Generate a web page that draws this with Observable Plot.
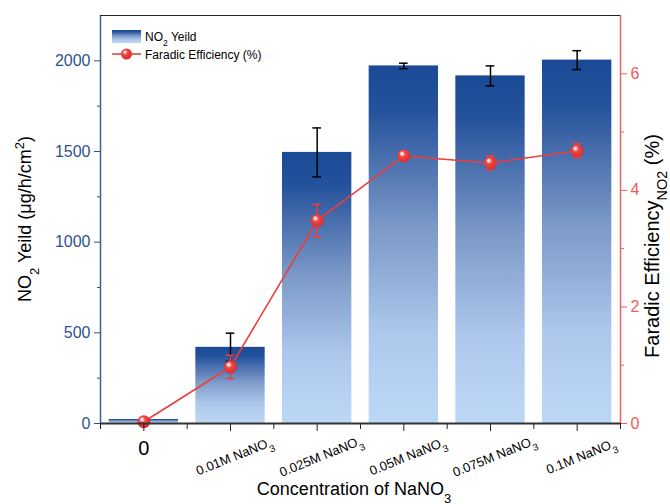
<!DOCTYPE html>
<html>
<head>
<meta charset="utf-8">
<script src="https://cdn.jsdelivr.net/npm/d3@7"></script>
<script src="https://cdn.jsdelivr.net/npm/@observablehq/plot@0.6"></script>
<style>
  html, body { margin: 0; padding: 0; background: #fff; }
  #chart svg { display: block; }
</style>
</head>
<body>
<div id="chart"></div>
<script>
// NaNO3 concentrations tested
const categories = ["0", "0.01M NaNO3", "0.025M NaNO3", "0.05M NaNO3", "0.075M NaNO3", "0.1M NaNO3"];
// NO2 yield (µg/h/cm²) and its error
const yieldValues = [22, 420, 1495, 1972, 1917, 2004];
const yieldErr = [0, 78, 135, 15, 55, 52];
// Faradaic efficiency (%) and its error
const feValues = [0.03, 0.97, 3.48, 4.59, 4.47, 4.68];
const feErr = [0, 0.2, 0.28, 0.04, 0.12, 0.12];
// axis ticks
const yieldTicks = [0, 500, 1000, 1500, 2000];
const yieldMinor = [250, 750, 1250, 1750];
const feTicks = [0, 2, 4, 6];
const feMinor = [1, 3, 5];

const yMax = 2250;   // left axis top
const feMax = 7;     // right axis top
const K = yMax / feMax; // FE -> left-axis units

const rows = categories.map((c, i) => ({
  i, cat: c,
  y: yieldValues[i], ye: yieldErr[i],
  fe: feValues[i] * K, fee: feErr[i] * K
}));
const errRows = rows.filter(d => d.ye > 0);
const feErrRows = rows.filter(d => d.fee > 0);

const FONT = "'Liberation Sans', Arial, Helvetica, sans-serif";
const BLUE = "#2f5190";
const RED = "#f25a5a";
const LINE_RED = "#ee3d3d";
const halfBar = 0.4;
const cap = 0.05;
const blank = () => "";

const chart = Plot.plot({
  width: 670,
  height: 504,
  marginLeft: 100,
  marginRight: 50,
  marginTop: 15,
  marginBottom: 81,
  style: { fontFamily: FONT, background: "#fff" },
  x: { type: "linear", domain: [-0.5, 5.5], axis: null },
  y: { domain: [0, yMax], axis: null },
  marks: [
    // bars
    Plot.rect(rows, {
      x1: d => d.i - halfBar, x2: d => d.i + halfBar,
      y1: 0, y2: "y", fill: "url(#barGrad)"
    }),
    // yield error bars
    Plot.ruleX(errRows, { x: "i", y1: d => d.y - d.ye, y2: d => d.y + d.ye, stroke: "#000", strokeWidth: 1.5 }),
    Plot.ruleY(errRows, { y: d => d.y + d.ye, x1: d => d.i - cap, x2: d => d.i + cap, stroke: "#000", strokeWidth: 1.5 }),
    Plot.ruleY(errRows, { y: d => d.y - d.ye, x1: d => d.i - cap, x2: d => d.i + cap, stroke: "#000", strokeWidth: 1.5 }),
    // FE line
    Plot.line(rows, { x: "i", y: "fe", stroke: LINE_RED, strokeWidth: 1.6 }),
    // FE error bars
    Plot.ruleX(feErrRows, { x: "i", y1: d => d.fe - d.fee, y2: d => d.fe + d.fee, stroke: LINE_RED, strokeWidth: 1.5 }),
    Plot.ruleY(feErrRows, { y: d => d.fe + d.fee, x1: d => d.i - cap, x2: d => d.i + cap, stroke: LINE_RED, strokeWidth: 1.5 }),
    Plot.ruleY(feErrRows, { y: d => d.fe - d.fee, x1: d => d.i - cap, x2: d => d.i + cap, stroke: LINE_RED, strokeWidth: 1.5 }),
    // FE markers
    Plot.dot(rows, { x: "i", y: "fe", r: 6.5, fill: "url(#dotGrad)", stroke: "none" }),

    // left axis
    Plot.axisY({ ticks: yieldTicks, tickSize: 6, tickPadding: 4, fontSize: 16, color: BLUE, label: null, tickFormat: d => String(d) }),
    Plot.axisY({ ticks: yieldMinor, tickSize: 3, color: BLUE, label: null, tickFormat: blank }),
    Plot.ruleX([-0.5], { stroke: "#3d5f96", strokeWidth: 1.5 }),
    // right axis
    Plot.axisY({ anchor: "right", ticks: feTicks.map(v => v * K), tickSize: 6, tickPadding: 4, fontSize: 16,
      color: RED, label: null, tickFormat: d => String(Math.round(d / K)) }),
    Plot.axisY({ anchor: "right", ticks: feMinor.map(v => v * K), tickSize: 3, color: RED, label: null, tickFormat: blank }),
    Plot.ruleX([5.5], { stroke: "#f06262", strokeWidth: 1.5 }),
    // top frame and bottom axis
    Plot.ruleY([yMax], { stroke: "#222", strokeWidth: 1.2 }),
    Plot.axisX({ ticks: [0, 1, 2, 3, 4, 5], tickSize: 8, color: "#222", label: null, tickFormat: blank }),
    Plot.axisX({ ticks: [-0.5, 0.5, 1.5, 2.5, 3.5, 4.5, 5.5], tickSize: 6, color: "#222", label: null, tickFormat: blank }),
    Plot.ruleY([0], { stroke: "#333", strokeWidth: 1.8 }),
    // category labels
    Plot.text(rows.filter(d => d.i === 0), { x: "i", y: 0, text: "cat", dy: 25, fontSize: 20, fill: "#000" }),
    Plot.text(rows.filter(d => d.i > 0), { x: "i", y: 0, text: "cat", dx: 4, dy: 33, rotate: -22, fontSize: 13, fill: "#000" })
  ]
});

document.getElementById("chart").appendChild(chart);

// gradients, subscripts, titles, legend
const svg = d3.select(chart);
const defs = svg.insert("defs", ":first-child");
const bg = defs.append("linearGradient").attr("id", "barGrad").attr("x1", 0).attr("y1", 0).attr("x2", 0).attr("y2", 1);
[[0, "#1a4a96"], [0.12, "#24519b"], [0.45, "#7b98c7"], [0.75, "#adc8ec"], [1, "#bdd8f6"]]
  .forEach(([o, c]) => bg.append("stop").attr("offset", o).attr("stop-color", c));
const dg = defs.append("radialGradient").attr("id", "dotGrad")
  .attr("cx", 0.45).attr("cy", 0.42).attr("r", 0.58).attr("fx", 0.34).attr("fy", 0.3);
[[0, "#ffffff"], [0.16, "#ffd0d0"], [0.4, "#f04646"], [1, "#d62e2e"]]
  .forEach(([o, c]) => dg.append("stop").attr("offset", o).attr("stop-color", c));

// drop empty tick texts left by tick-only axes
svg.selectAll("text").filter(function () { return this.textContent === ""; }).remove();

// "NaNO3" -> NaNO with subscript 3
svg.selectAll("text").each(function () {
  const t = d3.select(this);
  const s = this.textContent;
  if (/NaNO3$/.test(s) && this.childElementCount === 0) {
    t.text(null);
    t.append("tspan").text(s.slice(0, -1));
    t.append("tspan").attr("baseline-shift", "sub").attr("font-size", "0.75em").text("3");
  }
});

function richText(g, parts, attrs) {
  const t = g.append("text");
  Object.entries(attrs).forEach(([k, v]) => t.attr(k, v));
  parts.forEach(([s, shift]) => {
    const sp = t.append("tspan").text(s);
    if (shift) sp.attr("baseline-shift", shift).attr("font-size", "0.72em");
  });
  return t;
}

const titles = svg.append("g").attr("font-family", FONT).attr("fill", "#000");
richText(titles, [["Concentration of NaNO"], ["3", "sub"]],
  { x: 354, y: 495, "text-anchor": "middle", "font-size": 18 });
richText(titles, [["NO"], ["2", "sub"], [" Yeild (\u03bcg/h/cm"], ["2", "super"], [")"]],
  { transform: "translate(31,219) rotate(-90)", "text-anchor": "middle", "font-size": 18 });
richText(titles, [["Faradic Efficiency"], ["NO2", "sub"], [" (%)"]],
  { transform: "translate(659,246) rotate(-90)", "text-anchor": "middle", "font-size": 20 });

// legend
const lg = svg.append("g").attr("font-family", FONT).attr("font-size", 12).attr("fill", "#000");
lg.append("rect").attr("x", 112).attr("y", 30).attr("width", 29).attr("height", 13).attr("fill", "url(#barGrad)");
richText(lg, [["NO"], ["2", "sub"], [" Yeild"]], { x: 145, y: 41, "text-anchor": "start" });
lg.append("line").attr("x1", 112).attr("x2", 141).attr("y1", 54).attr("y2", 54)
  .attr("stroke", LINE_RED).attr("stroke-width", 1.6);
lg.append("circle").attr("cx", 126.5).attr("cy", 54).attr("r", 5.5).attr("fill", "url(#dotGrad)");
richText(lg, [["Faradic Efficiency (%)"]], { x: 145, y: 59, "text-anchor": "start" });
</script>
</body>
</html>
